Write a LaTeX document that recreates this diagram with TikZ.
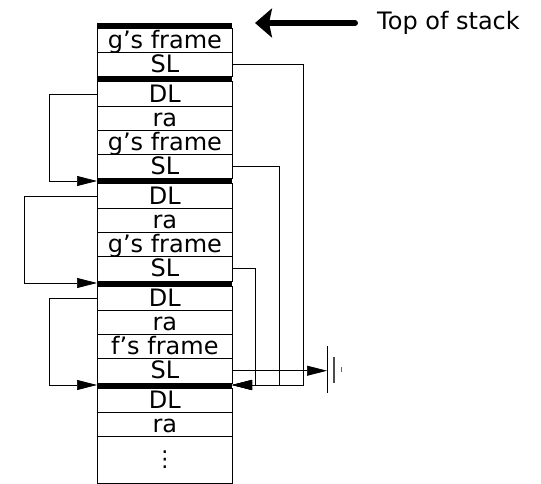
\documentclass[tikz,border=0pt]{standalone}
\usepackage{fontspec}
\setmainfont{DejaVu Sans}
\usetikzlibrary{arrows.meta}
\begin{document}
\begin{tikzpicture}[x=1pt,y=-1pt,
  cell/.style={draw, line width=0.7pt, minimum width=135pt, inner sep=0pt, anchor=north west, font=\fontsize{24}{24}\selectfont},
  row/.style={cell, text height=20.25pt, text depth=4pt},
  bar/.style={fill=black, minimum width=135pt, minimum height=5pt, inner sep=0pt, outer sep=0pt, anchor=west},
  conn/.style={line width=0.7pt},
  tip/.style={-{Triangle[length=20pt,width=10pt]}}]
\useasboundingbox (0,0) rectangle (541,484);
% rows
\node[row] (r1) at (97,28) {g’s frame};
\node[row] (r2) at (97,52.25) {SL};
\node[row] (r3) at (97,81.5) {DL};
\node[row] (r4) at (97,105.75) {ra};
\node[row] (r5) at (97,130) {g’s frame};
\node[row] (r6) at (97,154.25) {SL};
\node[row] (r7) at (97,183.5) {DL};
\node[row] (r8) at (97,207.75) {ra};
\node[row] (r9) at (97,232) {g’s frame};
\node[row] (r10) at (97,256.25) {SL};
\node[row] (r11) at (97,285.5) {DL};
\node[row] (r12) at (97,309.75) {ra};
\node[row] (r13) at (97,334) {f’s frame};
\node[row] (r14) at (97,358.25) {SL};
\node[row] (r15) at (97,387.5) {DL};
\node[row] (r16) at (97,411.75) {ra};
\node[cell, minimum height=47pt, font=\fontsize{22}{22}\selectfont] (r17) at (97,436) {⋮};
% frame boundaries
\node[bar] (bar0) at (97,25.5) {};
\node[bar] (bar1) at (97,79) {};
\node[bar] (bar2) at (97,181) {};
\node[bar] (bar3) at (97,283) {};
\node[bar] (bar4) at (97,385) {};
% dynamic links
\draw[conn,tip] (r3.west) -- ++(-48,0) |- (bar2.west);
\draw[conn,tip] (r7.west) -- ++(-73,0) |- (bar3.west);
\draw[conn,tip] (r11.west) -- ++(-48,0) |- (bar4.west);
% static links
\draw[conn,tip] (r2.east) -- ++(71,0) |- (bar4.east);
\draw[conn,tip] (r6.east) -- ++(47,0) |- (bar4.east);
\draw[conn,tip] (r10.east) -- ++(23,0) |- (bar4.east);
% ground
\coordinate (g) at (327,370);
\draw[conn,tip] (r14.east) -- (r14.east -| g);
\draw[line width=1pt] (327,346) -- (327,393);
\draw[line width=1.5pt, black!70] (334,357) -- (334,383);
\draw[line width=1pt, black!60] (341,367) -- (341,372);
% top of stack
\node[font=\fontsize{24}{24}\selectfont, anchor=base west, inner sep=0pt] (tos) at (377,30) {Top of stack};
\coordinate (as) at (355,23);
\coordinate (ae) at (255,23);
\draw[line width=6pt, line cap=round, -{Stealth[length=17pt,width=29pt,inset=3pt]}] (as) -- (ae);
\end{tikzpicture}
\end{document}
